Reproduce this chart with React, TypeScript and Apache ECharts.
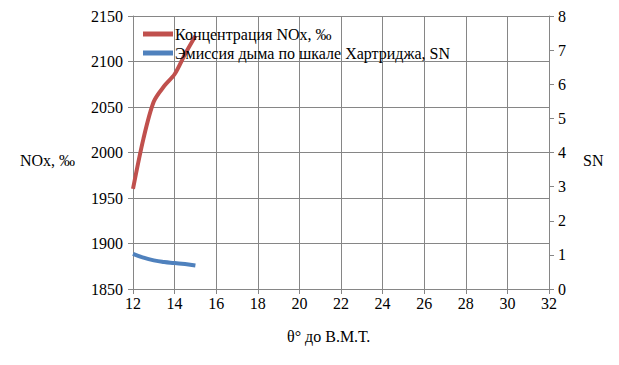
import React, { useEffect, useRef } from "react";
import * as echarts from "echarts";

const angles = [12, 12.5, 13, 13.5, 14, 14.5, 15];
const noxValues = [1960, 2015, 2056, 2073, 2086, 2108, 2128];
const smokeValues = [1.03, 0.92, 0.84, 0.79, 0.76, 0.73, 0.69];
const xTicks = { min: 12, max: 32, interval: 2 };
const yLeft = { min: 1850, max: 2150, interval: 50 };
const yRight = { min: 0, max: 8, interval: 1 };
const seriesNames = ["Концентрация NOx, ‰", "Эмиссия дыма по шкале Хартриджа, SN"];
const axisNames = { x: "θ° до В.М.Т.", left: "NOx, ‰", right: "SN" };

const FONT = "Liberation Serif";

export default function App() {
  const ref = useRef<HTMLDivElement>(null);
  useEffect(() => {
    if (!ref.current) return;
    const chart = echarts.init(ref.current, undefined, { renderer: "svg" });
    const axisLine = { show: true, lineStyle: { color: "#868686", width: 1 } };
    const axisLabel = {
      color: "#000",
      fontFamily: FONT,
      fontSize: 16,
      formatter: (v: number) => String(v),
    };
    chart.setOption({
      animation: false,
      backgroundColor: "#fff",
      textStyle: { fontFamily: FONT },
      grid: { left: 133, right: 70, top: 16, bottom: 76, containLabel: false },
      legend: {
        left: 138,
        top: 21,
        orient: "vertical",
        itemGap: 3,
        itemWidth: 30,
        itemHeight: 5,
        icon: "rect",
        textStyle: { fontFamily: FONT, fontSize: 16, color: "#000", padding: [0, 0, 0, -3] },
        data: seriesNames,
      },
      xAxis: {
        type: "value",
        min: xTicks.min,
        max: xTicks.max,
        interval: xTicks.interval,
        axisLine,
        axisTick: { show: true, length: 5, lineStyle: { color: "#868686" } },
        axisLabel: { ...axisLabel, margin: 6 },
        splitLine: { show: true, lineStyle: { color: "#868686", width: 1 } },
      },
      yAxis: [
        {
          type: "value",
          min: yLeft.min,
          max: yLeft.max,
          interval: yLeft.interval,
          axisLine,
          axisTick: { show: true, length: 5, lineStyle: { color: "#868686" } },
          axisLabel: { ...axisLabel, margin: 10 },
          splitLine: { show: true, lineStyle: { color: "#868686", width: 1 } },
        },
        {
          type: "value",
          position: "right",
          min: yRight.min,
          max: yRight.max,
          interval: yRight.interval,
          axisLine,
          axisTick: { show: true, length: 5, lineStyle: { color: "#868686" } },
          axisLabel: { ...axisLabel, margin: 9 },
          splitLine: { show: false },
        },
      ],
      series: [
        {
          name: seriesNames[0],
          type: "line",
          yAxisIndex: 0,
          smooth: 0.3,
          showSymbol: false,
          symbol: "none",
          lineStyle: { color: "#C0504D", width: 4 },
          itemStyle: { color: "#C0504D" },
          data: angles.map((a, i) => [a, noxValues[i]]),
        },
        {
          name: seriesNames[1],
          type: "line",
          yAxisIndex: 1,
          smooth: true,
          showSymbol: false,
          symbol: "none",
          lineStyle: { color: "#4F81BD", width: 4 },
          itemStyle: { color: "#4F81BD" },
          data: angles.map((a, i) => [a, smokeValues[i]]),
        },
      ],
      graphic: [
        {
          type: "text",
          left: 20,
          top: 152,
          style: { text: axisNames.left, font: `16px "${FONT}"`, fill: "#000" },
        },
        {
          type: "text",
          left: 583,
          top: 152,
          style: { text: axisNames.right, font: `16px "${FONT}"`, fill: "#000" },
        },
        {
          type: "text",
          left: 287,
          top: 328,
          style: { text: axisNames.x, font: `16px "${FONT}"`, fill: "#000" },
        },
      ],
    });
    return () => chart.dispose();
  }, []);
  return (
    <div
      ref={ref}
      style={{ position: "absolute", left: 0, top: 0, width: 619, height: 365 }}
    />
  );
}
